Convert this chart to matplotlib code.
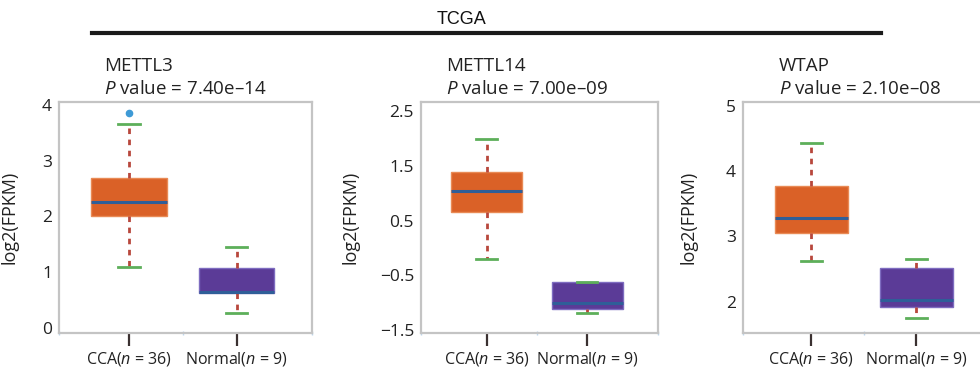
import matplotlib
matplotlib.use("Agg")
import matplotlib.pyplot as plt

plt.rcParams['font.family'] = ['Open Sans', 'DejaVu Sans']
plt.rcParams['mathtext.fontset'] = 'custom'
plt.rcParams['mathtext.rm'] = 'Open Sans'
plt.rcParams['mathtext.it'] = 'Open Sans:italic'

# data
genes = ["METTL3", "METTL14", "WTAP"]
p_values = ["7.40e\u201314", "7.00e\u201309", "2.10e\u201308"]
group_labels = ["CCA($n$ = 36)", "Normal($n$ = 9)"]

# [CCA, Normal] per gene
whislo = [[1.09, 0.27], [-0.20, -1.19], [2.63, 1.75]]
q1 = [[2.01, 0.63], [0.65, -1.11], [3.06, 1.92]]
med = [[2.26, 0.65], [1.03, -1.00], [3.29, 2.02]]
q3 = [[2.69, 1.08], [1.38, -0.62], [3.78, 2.52]]
whishi = [[3.66, 1.45], [1.99, -0.62], [4.43, 2.66]]
fliers = [[[3.86], []], [[], []], [[], []]]

ylims = [(-0.09, 4.05), (-1.555, 2.665), (1.52, 5.06)]
yticks = [[0, 1, 2, 3, 4], [-1.5, -0.5, 0.5, 1.5, 2.5], [2, 3, 4, 5]]
ytick_labels = [["0", "1", "2", "3", "4"],
                ["\u22121.5", "\u22120.5", "0.5", "1.5", "2.5"],
                ["2", "3", "4", "5"]]

box_colors = ["#DA6127", "#5B3B97"]
edge_colors = ["#E98A55", "#7E6CC0"]

W, H = 980, 369
fig = plt.figure(figsize=(W / 100, H / 100), dpi=100)

# axes in pixels: left, width ; shared top/bottom
ax_left = [59, 421, 743]
ax_width = [253, 237, 247]
top_px, bot_px = 102, 333
ylabel_off = [-41, -62, -46]
title_x = [104, 446, 779]

for i in range(3):
    ax = fig.add_axes([ax_left[i] / W, (H - bot_px) / H,
                       ax_width[i] / W, (bot_px - top_px) / H])
    stats = []
    for j in range(2):
        stats.append(dict(whislo=whislo[i][j], q1=q1[i][j], med=med[i][j],
                          q3=q3[i][j], whishi=whishi[i][j], fliers=fliers[i][j]))
    art = ax.bxp(stats, positions=[1, 2], widths=0.7, patch_artist=True,
                 capwidths=0.2,
                 medianprops=dict(color="#2F5E98", linewidth=2.2),
                 whiskerprops=dict(color="#B8473C", linewidth=2, linestyle=(0, (2, 2))),
                 capprops=dict(color="#5DAF5A", linewidth=2),
                 flierprops=dict(marker="o", markersize=4.5, markerfacecolor="#3E9AD6",
                                 markeredgecolor="#3E9AD6"))
    for j, b in enumerate(art["boxes"]):
        b.set_facecolor(box_colors[j])
        b.set_edgecolor(edge_colors[j])
        b.set_linewidth(1)
        b.set_zorder(2)
    for m in art["medians"]:
        m.set_zorder(3)

    ax.set_xlim(0.35, 2.7)
    ax.set_ylim(*ylims[i])
    ax.set_yticks(yticks[i])
    ax.set_yticklabels(ytick_labels[i])
    ax.set_xticks([1, 2])
    ax.set_xticklabels(group_labels)
    ax.set_xticks([0.35, 1.5, 2.7], minor=True)
    ax.tick_params(axis="y", length=0, labelsize=12.5, pad=5, colors="#222222")
    ax.tick_params(axis="x", which="major", length=9, width=1.6, color="#3a3030",
                   labelsize=11.5, pad=3, labelcolor="#222222")
    ax.tick_params(axis="x", which="minor", length=3, width=1, color="#BFD7EE",
                   direction="inout")
    for s in ax.spines.values():
        s.set_color("#C4C4C4")
        s.set_linewidth(1.6)
    ax.set_ylabel("log2(FPKM)", fontsize=13, color="#222222")
    ax.yaxis.set_label_coords(ylabel_off[i] / ax_width[i], 0.5)

    fig.text(title_x[i] / W, 1 - 71 / H, genes[i], fontsize=13.5, color="#222222",
             va="baseline", ha="left")
    fig.text(title_x[i] / W, 1 - 94 / H, "$P$ value = " + p_values[i], fontsize=13.5,
             color="#222222", va="baseline", ha="left")

# TCGA header with line
fig.text(461 / W, 1 - 20 / H, "TCGA", fontsize=13, ha="center", va="center",
         family=["Liberation Sans Narrow", "Liberation Sans", "DejaVu Sans"],
         color="#111111")
fig.add_artist(plt.Line2D([92 / W, 881 / W], [1 - 33 / H, 1 - 33 / H],
                          transform=fig.transFigure, color="#1a1a1a", linewidth=3))

fig.savefig("out.png", dpi=100)
